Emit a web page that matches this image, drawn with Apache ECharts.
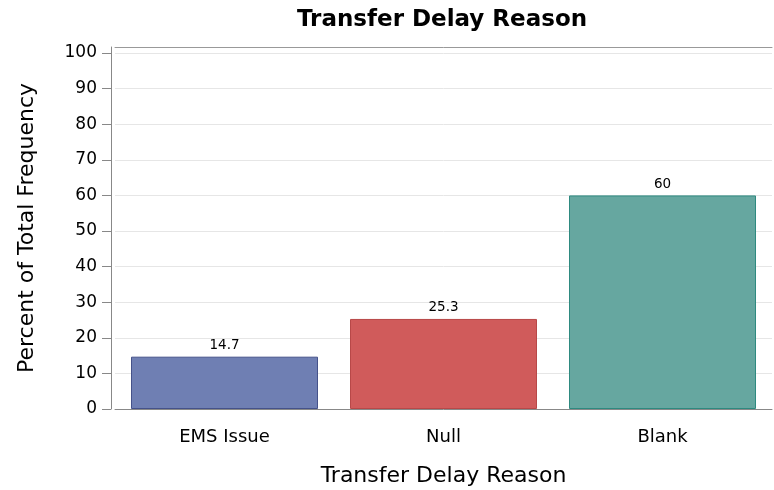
<!DOCTYPE html>
<html>
<head>
<meta charset="UTF-8">
<title>Transfer Delay Reason</title>
<script src="https://cdn.jsdelivr.net/npm/echarts@6/dist/echarts.min.js"></script>
<style>
  html, body { margin: 0; padding: 0; background: #fff; }
  #chart { width: 774px; height: 490px; }
</style>
</head>
<body>
<div id="chart"></div>
<script>
// data
var categories = ['EMS Issue', 'Null', 'Blank'];
var percents = [14.7, 25.3, 60];
var labels = ['14.7', '25.3', '60'];
var fills = ['#6f7fb3', '#d05b5b', '#66a7a0'];
var borders = ['#45528a', '#b84848', '#2e8a80'];

var font = '"DejaVu Sans", "Noto Sans", sans-serif';

var chart = echarts.init(document.getElementById('chart'));

var barData = percents.map(function (v, i) {
  return {
    value: v,
    label: { formatter: labels[i] },
    itemStyle: { color: fills[i], borderColor: borders[i], borderWidth: 1 }
  };
});

chart.setOption({
  animation: false,
  title: {
    text: 'Transfer Delay Reason',
    left: 437,
    textAlign: 'center',
    top: 4,
    textStyle: { fontFamily: font, fontSize: 23, fontWeight: 'bold', color: '#000' }
  },
  grid: { left: 115, right: 2, top: 47, bottom: 81, outerBoundsMode: 'none' },
  xAxis: [{
    type: 'category',
    data: categories,
    name: 'Transfer Delay Reason',
    nameLocation: 'middle',
    nameGap: 56,
    nameTextStyle: { fontFamily: font, fontSize: 22, color: '#000' },
    axisLine: { lineStyle: { color: '#888', width: 1 } },
    axisTick: { alignWithLabel: true, length: 9, lineStyle: { color: '#888' } },
    axisLabel: { fontFamily: font, fontSize: 18, color: '#000', margin: 19 }
  }, {
    type: 'category',
    data: categories,
    position: 'top',
    axisLine: { show: true, lineStyle: { color: '#999', width: 1 } },
    axisTick: { show: false },
    axisLabel: { show: false }
  }],
  yAxis: {
    type: 'value',
    min: 0,
    max: 101.7,
    interval: 10,
    offset: 4,
    name: 'Percent of Total Frequency',
    nameLocation: 'middle',
    nameGap: 73,
    nameTextStyle: { fontFamily: font, fontSize: 22, color: '#000' },
    axisLine: { show: true, lineStyle: { color: '#888', width: 1 } },
    axisTick: { show: true, length: 9, lineStyle: { color: '#888' } },
    axisLabel: { fontFamily: font, fontSize: 17, color: '#000', margin: 14, showMaxLabel: false },
    splitLine: { show: true, lineStyle: { color: '#e6e6e6', width: 1 } }
  },
  series: [{
    type: 'bar',
    data: barData,
    barWidth: 187,
    label: {
      show: true,
      position: 'top',
      distance: 4,
      fontFamily: font,
      fontSize: 13.5,
      color: '#000'
    }
  }]
});
</script>
</body>
</html>
